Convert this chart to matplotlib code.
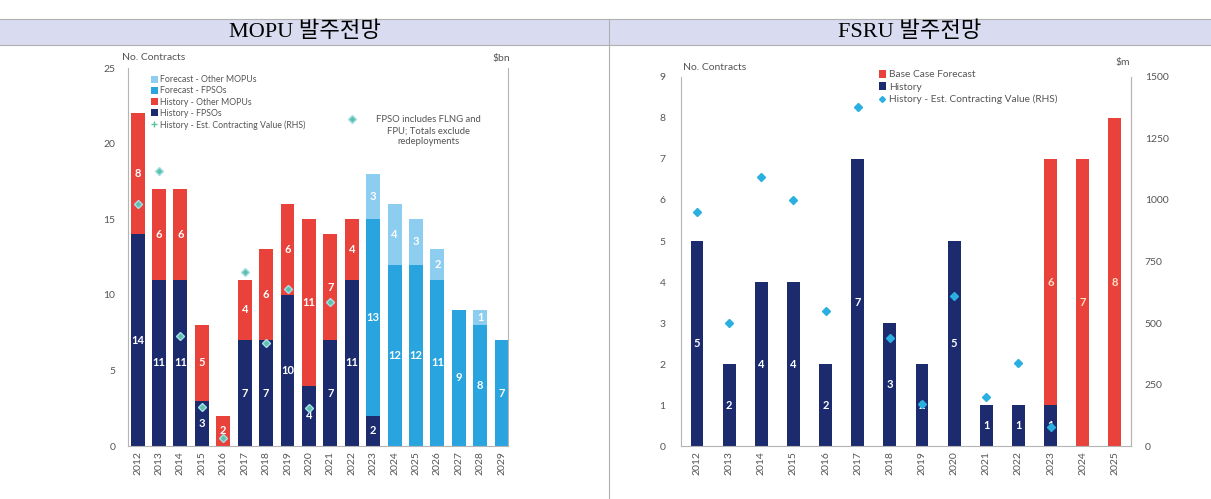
import numpy as np
import matplotlib.pyplot as plt
from matplotlib.patches import Rectangle
from matplotlib.lines import Line2D

# MOPU data
mopu_years = [str(y) for y in range(2012, 2030)]
hist_fpso = [14, 11, 11, 3, 0, 7, 7, 10, 4, 7, 11, 2, 0, 0, 0, 0, 0, 0]
hist_other = [8, 6, 6, 5, 2, 4, 6, 6, 11, 7, 4, 0, 0, 0, 0, 0, 0, 0]
fc_fpso = [0, 0, 0, 0, 0, 0, 0, 0, 0, 0, 0, 13, 12, 12, 11, 9, 8, 7]
fc_other = [0, 0, 0, 0, 0, 0, 0, 0, 0, 0, 0, 3, 4, 3, 2, 0, 1, 0]
mopu_value = [16, 18.2, 7.3, 2.6, 0.5, 11.5, 6.8, 10.4, 2.5, 9.5, 21.6]  # $bn, 2012-2022

# FSRU data
fsru_years = [str(y) for y in range(2012, 2026)]
fsru_hist = [5, 2, 4, 4, 2, 7, 3, 2, 5, 1, 1, 1, 0, 0]
fsru_fc = [0, 0, 0, 0, 0, 0, 0, 0, 0, 0, 0, 6, 7, 8]
fsru_value = [950, 500, 1095, 1000, 550, 1380, 440, 170, 610, 200, 337, 77]  # $m, 2012-2023

navy = '#1c2a6e'
red = '#e8423b'
blue = '#2aa4de'
lblue = '#8dcdf0'
txt = '#555555'

plt.rcParams['font.family'] = ['Lato', 'DejaVu Sans']

fig = plt.figure(figsize=(12.11, 4.99), dpi=100)

# header band
fig.patches.append(Rectangle((0, 0.9098), 1, 0.0522, transform=fig.transFigure,
                             facecolor='#d9dcf0', edgecolor='none', zorder=0))
for yy in [0.962, 0.9098]:
    fig.add_artist(Line2D([0, 1], [yy, yy], transform=fig.transFigure, color='#b0b0b0', lw=0.8))
fig.add_artist(Line2D([609 / 1211, 609 / 1211], [0, 0.962], transform=fig.transFigure,
                      color='#b0b0b0', lw=0.8))
hfont = ['Liberation Serif', 'Noto Sans CJK KR']
fig.text(305 / 1211, 0.936, 'MOPU 발주전망', ha='center', va='center', fontsize=16, family=hfont)
fig.text(910 / 1211, 0.936, 'FSRU 발주전망', ha='center', va='center', fontsize=16, family=hfont)


def style(ax, ypad):
    ax.spines['top'].set_visible(False)
    for s in ['left', 'bottom', 'right']:
        ax.spines[s].set_color('#b5b5b5')
        ax.spines[s].set_linewidth(0.8)
    ax.tick_params(axis='both', length=0, labelsize=7.5, colors=txt)
    ax.tick_params(axis='y', pad=ypad)
    ax.tick_params(axis='x', rotation=90)


def seg_labels(ax, x, bottom, vals, color):
    for xi, b, v in zip(x, bottom, vals):
        if v > 0:
            ax.text(xi, b + v / 2, str(v), ha='center', va='center', color=color,
                    fontsize=8, fontweight='bold')


# ---- left chart: MOPU
ax1 = fig.add_axes([0.1057, 0.1062, 0.3138, 0.7575])
x = np.arange(len(mopu_years))
w = 0.65
b0 = np.zeros(len(x))
ax1.bar(x, hist_fpso, w, color=navy, label='History - FPSOs', zorder=2)
seg_labels(ax1, x, b0, hist_fpso, 'white')
b1 = b0 + np.array(hist_fpso)
ax1.bar(x, hist_other, w, bottom=b1, color=red, label='History - Other MOPUs', zorder=2)
seg_labels(ax1, x, b1, hist_other, 'white')
b2 = b1 + np.array(hist_other)
ax1.bar(x, fc_fpso, w, bottom=b2, color=blue, label='Forecast - FPSOs', zorder=2)
seg_labels(ax1, x, b2, fc_fpso, 'white')
b3 = b2 + np.array(fc_fpso)
ax1.bar(x, fc_other, w, bottom=b3, color=lblue, label='Forecast - Other MOPUs', zorder=2)
seg_labels(ax1, x, b3, fc_other, 'white')
ax1.set_xticks(x)
ax1.set_xticklabels(mopu_years)
ax1.set_xlim(-0.45, 17.3)
ax1.set_ylim(0, 25)
ax1.set_yticks(range(0, 26, 5))
style(ax1, 9)

ax1r = ax1.twinx()
ax1r.set_ylim(0, 25)
ax1r.set_yticks([])
for s in ['top', 'left', 'bottom', 'right']:
    ax1r.spines[s].set_visible(False)
ax1r.plot(np.arange(len(mopu_value)), mopu_value, linestyle='none', marker='D', ms=4.5,
          color='#5dc3a8', markeredgecolor='#a8dcec', markeredgewidth=1,
          label='History - Est. Contracting Value (RHS)', zorder=5)

h, l = ax1.get_legend_handles_labels()
h2, l2 = ax1r.get_legend_handles_labels()
hh = h[::-1] + [Line2D([], [], linestyle='none', marker='+', color='#5dc3a8', ms=5)]
ll = l[::-1] + l2
leg = ax1.legend(hh, ll, loc='upper left', bbox_to_anchor=(0.05, 0.99), fontsize=6.3,
                 frameon=False, handlelength=0.8, handleheight=0.8, handletextpad=0.3,
                 labelspacing=0.25, borderaxespad=0)
for t in leg.get_texts():
    t.set_color(txt)
ax1.text(0.79, 0.875, 'FPSO includes FLNG and\nFPU; Totals exclude\nredeployments',
         transform=ax1.transAxes, ha='center', va='top', fontsize=6.8, color=txt,
         linespacing=1.3)
fig.text(122 / 1211, 1 - 58 / 499, 'No. Contracts', fontsize=7.5, color=txt, va='center')
fig.text(510 / 1211, 1 - 58 / 499, '$bn', fontsize=7.5, color=txt, va='center', ha='right')

# ---- right chart: FSRU
ax2 = fig.add_axes([0.5623, 0.1062, 0.3716, 0.7395])
x2 = np.arange(len(fsru_years))
w2 = 0.4
ax2.bar(x2, fsru_hist, w2, color=navy, label='History', zorder=2)
seg_labels(ax2, x2, np.zeros(len(x2)), fsru_hist, 'white')
ax2.bar(x2, fsru_fc, w2, bottom=fsru_hist, color=red, label='Base Case Forecast', zorder=2)
seg_labels(ax2, x2, np.array(fsru_hist), fsru_fc, '#fde2c4')
ax2.set_xticks(x2)
ax2.set_xticklabels(fsru_years)
ax2.set_xlim(-0.5, 13.5)
ax2.set_ylim(0, 9)
ax2.set_yticks(range(0, 10))
style(ax2, 11)

ax2r = ax2.twinx()
ax2r.set_ylim(0, 1500)
ax2r.set_yticks(range(0, 1501, 250))
for s in ['top', 'left', 'bottom']:
    ax2r.spines[s].set_visible(False)
ax2r.spines['right'].set_color('#b5b5b5')
ax2r.spines['right'].set_linewidth(0.8)
ax2r.tick_params(axis='y', length=0, labelsize=7.5, colors=txt, pad=10)
ax2r.plot(np.arange(len(fsru_value)), fsru_value, linestyle='none', marker='D', ms=4.5,
          color='#2ab0e0', label='History - Est. Contracting Value (RHS)', zorder=5)

h, l = ax2.get_legend_handles_labels()
h2, l2 = ax2r.get_legend_handles_labels()
hh = [h[1], h[0], Line2D([], [], linestyle='none', marker='D', color='#2ab0e0', ms=3)]
ll = [l[1], l[0], l2[0]]
leg2 = ax2.legend(hh, ll, loc='upper left', bbox_to_anchor=(0.43, 1.03), fontsize=7.3,
                  frameon=False, handlelength=0.7, handleheight=0.8, handletextpad=0.3,
                  labelspacing=0.3, borderaxespad=0)
for t in leg2.get_texts():
    t.set_color(txt)
fig.text(683 / 1211, 1 - 68 / 499, 'No. Contracts', fontsize=7.5, color=txt, va='center')
fig.text(1130 / 1211, 1 - 62 / 499, '$m', fontsize=7.5, color=txt, va='center', ha='right')

fig.savefig('out.png', dpi=100)
